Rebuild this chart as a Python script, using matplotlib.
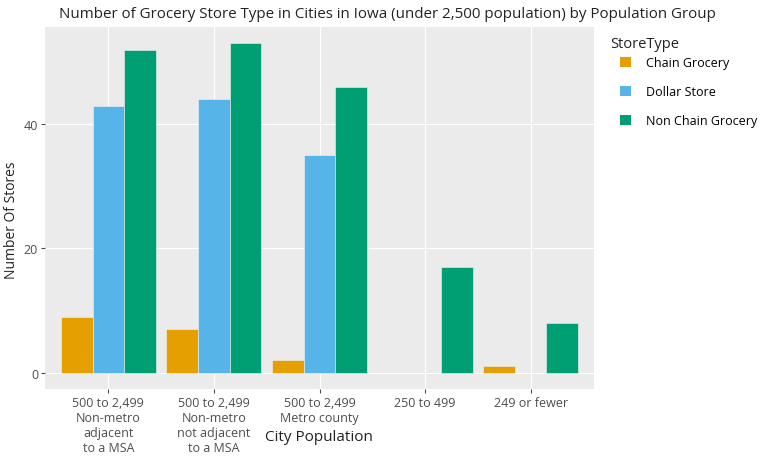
import numpy as np
import matplotlib
matplotlib.use("Agg")
from matplotlib import pyplot as plt
from matplotlib.patches import Patch

# data
groups = ["500 to 2,499\nNon-metro\nadjacent\nto a MSA",
          "500 to 2,499\nNon-metro\nnot adjacent\nto a MSA",
          "500 to 2,499\nMetro county",
          "250 to 499",
          "249 or fewer"]
store_types = ["Chain Grocery", "Dollar Store", "Non Chain Grocery"]
chain_grocery = [9, 7, 2, 0, 1]
dollar_store = [43, 44, 35, 0, 0]
non_chain_grocery = [52, 53, 46, 17, 8]
colors = ["#E69F00", "#56B4E9", "#009E73"]

plt.rcParams['font.family'] = ['Open Sans', 'DejaVu Sans']

fig = plt.figure(figsize=(7.73, 4.77), dpi=100)
ax = fig.add_axes([45/773, 1-390/477, (594-45)/773, (390-28)/477])

x = np.arange(len(groups))
w = 0.3
for i, (vals, c) in enumerate(zip([chain_grocery, dollar_store, non_chain_grocery], colors)):
    v = np.array(vals, dtype=float)
    keep = v > 0  # zero counts are not drawn
    ax.bar(x[keep] + (i-1)*w, v[keep], width=w, color=c, edgecolor="#F4F4F4", linewidth=0.4, zorder=3)

ax.set_facecolor("#EBEBEB")
ax.set_xlim(-0.6, 4.6)
ax.set_ylim(-2.65, 55.65)
ax.set_yticks([0, 20, 40])
ax.set_xticks(x)
ax.set_xticklabels(groups, fontsize=9, color="#4D4D4D", linespacing=1.2)
ax.tick_params(axis="y", labelsize=9, labelcolor="#4D4D4D", length=3, color="#4D4D4D", pad=2)
ax.tick_params(axis="x", length=3, color="#4D4D4D", pad=2)
ax.grid(True, color="white", linewidth=0.8, zorder=0)
for s in ax.spines.values():
    s.set_visible(False)

fig.text(12/773, 1-220/477, "Number Of Stores", fontsize=10, color="#222222",
         rotation=90, ha="center", va="center")
fig.text(319/773, 1-438/477, "City Population", fontsize=11, color="#222222", ha="center", va="center")
fig.text(387/773, 1-14/477, "Number of Grocery Store Type in Cities in Iowa (under 2,500 population) by Population Group",
         fontsize=10.9, color="#222222", ha="center", va="center")

fig.text(610/773, 1-44/477, "StoreType", fontsize=10.5, color="#222222", ha="left", va="center")
handles = [Patch(facecolor=c, edgecolor="none") for c in colors]
leg = fig.legend(handles, store_types, loc="upper left",
                 bbox_to_anchor=(620/773, 1-57/477), frameon=False, fontsize=9,
                 handlelength=0.9, handleheight=0.9,
                 labelspacing=1.3, handletextpad=1.2, borderpad=0, borderaxespad=0)

fig.savefig("out.png", dpi=100)
